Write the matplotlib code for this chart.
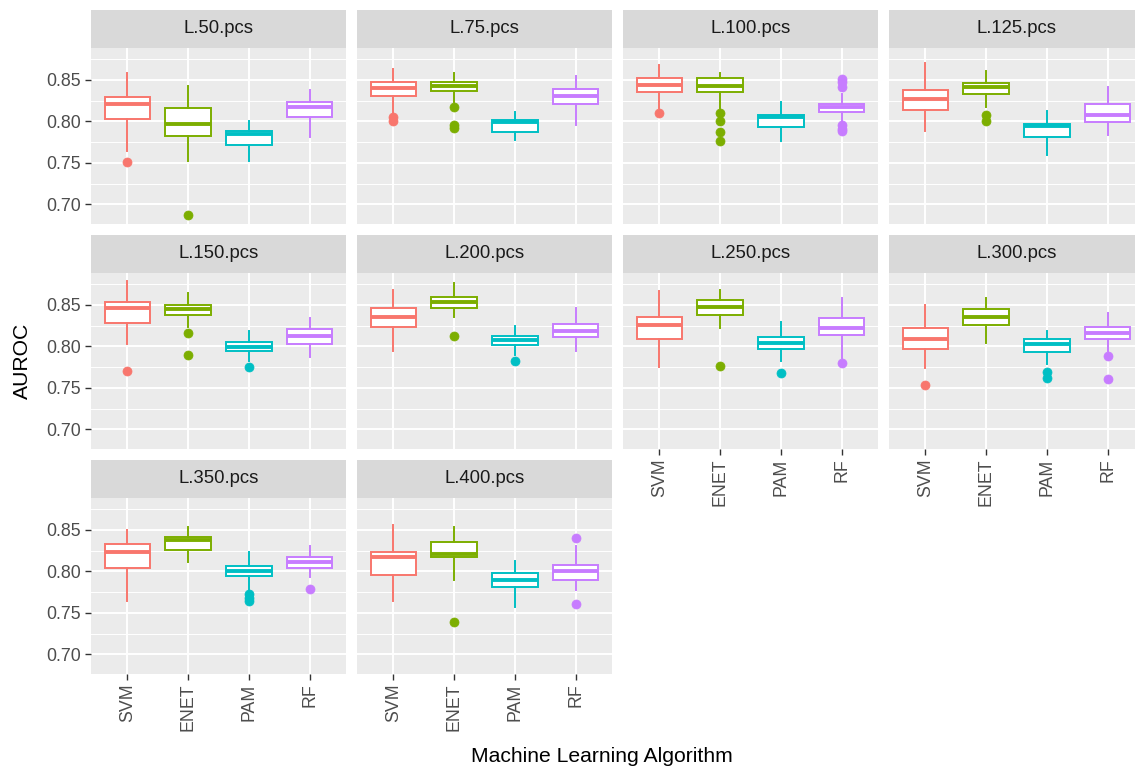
import matplotlib
matplotlib.use("Agg")
import matplotlib.pyplot as plt

plt.rcParams['font.family'] = ['Liberation Sans', 'DejaVu Sans']

panels = ["L.50.pcs", "L.75.pcs", "L.100.pcs", "L.125.pcs", "L.150.pcs",
          "L.200.pcs", "L.250.pcs", "L.300.pcs", "L.350.pcs", "L.400.pcs"]
algorithms = ["SVM", "ENET", "PAM", "RF"]
colors = ["#F8766D", "#7CAE00", "#00BFC4", "#C77CFF"]

# per panel: [SVM, ENET, PAM, RF]
whislo = [[.765, .753, .753, .781],
          [.808, .823, .778, .796],
          [.816, .816, .776, .796],
          [.789, .818, .760, .784],
          [.803, .824, .783, .787],
          [.794, .836, .790, .794],
          [.775, .822, .782, .786],
          [.774, .804, .779, .794],
          [.764, .811, .778, .793],
          [.764, .790, .757, .778]]
q1 = [[.803, .783, .772, .805],
      [.831, .837, .787, .821],
      [.836, .835, .793, .811],
      [.814, .833, .781, .799],
      [.828, .838, .794, .803],
      [.824, .846, .802, .811],
      [.809, .838, .797, .814],
      [.797, .826, .793, .809],
      [.804, .826, .795, .804],
      [.796, .817, .781, .790]]
med = [[.821, .797, .785, .818],
       [.840, .843, .799, .831],
       [.844, .843, .806, .818],
       [.827, .842, .794, .808],
       [.846, .845, .799, .813],
       [.835, .853, .808, .819],
       [.826, .848, .804, .822],
       [.809, .835, .803, .816],
       [.823, .838, .800, .811],
       [.818, .821, .790, .800]]
q3 = [[.830, .816, .789, .824],
      [.848, .848, .802, .839],
      [.852, .852, .808, .821],
      [.838, .846, .797, .821],
      [.854, .850, .805, .821],
      [.846, .860, .813, .827],
      [.836, .856, .812, .834],
      [.822, .845, .809, .823],
      [.833, .842, .807, .818],
      [.824, .835, .798, .808]]
whishi = [[.858, .843, .801, .838],
          [.863, .859, .812, .855],
          [.868, .858, .823, .833],
          [.870, .861, .813, .841],
          [.879, .865, .819, .834],
          [.868, .876, .825, .846],
          [.867, .868, .830, .858],
          [.850, .859, .819, .840],
          [.850, .853, .824, .831],
          [.856, .853, .813, .831]]
fliers = [[[.751], [.687], [], []],
          [[.805, .801], [.818, .796, .792], [], []],
          [[.810], [.810, .801, .787, .776], [], [.851, .847, .842, .796, .791, .788]],
          [[], [.808, .801], [], []],
          [[.770], [.816, .790], [.775], []],
          [[], [.813], [.783], []],
          [[], [.777], [.768], [.780]],
          [[.754], [], [.769, .762], [.788, .761]],
          [[], [], [.773, .768, .765], [.779]],
          [[], [.739], [], [.840, .761]]]

yticks = [0.70, 0.75, 0.80, 0.85]
yminor = [0.725, 0.775, 0.825, 0.875]

W, H = 1135, 769
fig = plt.figure(figsize=(W / 100, H / 100), dpi=100)

col_left = [91, 357, 623, 889]
row_top = [10, 235, 460]
pw, strip_h, ph = 255, 37.7, 176.3

def fig_rect(x, y, w, h):
    return [x / W, 1 - (y + h) / H, w / W, h / H]

tick_col = "#333333"
lab_col = "#4D4D4D"
tick_fs = 12.8
strip_fs = 13.3
title_fs = 15.2

for i, name in enumerate(panels):
    r, c = divmod(i, 4)
    x0 = col_left[c]
    y0 = row_top[r]
    sax = fig.add_axes(fig_rect(x0, y0, pw, strip_h))
    sax.set_facecolor("#D9D9D9")
    sax.set_xticks([]); sax.set_yticks([])
    for s in sax.spines.values():
        s.set_visible(False)
    sax.text(0.5, 0.5, name, ha="center", va="center", fontsize=strip_fs,
             color="#1A1A1A", transform=sax.transAxes)

    ax = fig.add_axes(fig_rect(x0, y0 + strip_h, pw, ph))
    ax.set_facecolor("#EBEBEB")
    for s in ax.spines.values():
        s.set_visible(False)
    ax.set_axisbelow(True)

    for j, alg in enumerate(algorithms):
        st = dict(whislo=whislo[i][j], q1=q1[i][j], med=med[i][j],
                  q3=q3[i][j], whishi=whishi[i][j], fliers=fliers[i][j])
        col = colors[j]
        ax.bxp([st], positions=[j + 1], widths=0.75, patch_artist=True,
               showcaps=False, manage_ticks=False,
               boxprops=dict(facecolor="white", edgecolor=col, linewidth=1.4),
               medianprops=dict(color=col, linewidth=2.8, solid_capstyle="butt"),
               whiskerprops=dict(color=col, linewidth=1.4),
               flierprops=dict(marker="o", markerfacecolor=col, markeredgecolor=col,
                               markersize=6.5, markeredgewidth=0.5, linestyle="none"))

    ax.set_xlim(0.4, 4.6)
    ax.set_ylim(0.6765, 0.8889)
    ax.set_yticks(yticks)
    ax.set_yticks(yminor, minor=True)
    ax.set_xticks(range(1, 5))
    ax.grid(which="major", color="white", linewidth=1.4)
    ax.grid(which="minor", axis="y", color="white", linewidth=0.7)
    ax.tick_params(which="minor", length=0)

    if c == 0:
        ax.set_yticklabels([f"{v:.2f}" for v in yticks])
        ax.tick_params(axis="y", length=4.5, width=1.0, color=tick_col,
                       labelsize=tick_fs, labelcolor=lab_col, pad=2.5)
    else:
        ax.tick_params(axis="y", length=0, labelleft=False)

    bottom_of_col = (r == 2) or (r == 1 and c >= 2)
    if bottom_of_col:
        ax.set_xticklabels(algorithms, rotation=90, va="top", ha="center")
        ax.tick_params(axis="x", length=4.5, width=1.0, color=tick_col,
                       labelsize=tick_fs, labelcolor=lab_col, pad=2.5)
    else:
        ax.tick_params(axis="x", length=0, labelbottom=False)

fig.text(22 / W, 1 - 361 / H, "AUROC", rotation=90, ha="center", va="center",
         fontsize=title_fs, color="black")
fig.text(602 / W, 1 - 757 / H, "Machine Learning Algorithm", ha="center",
         va="center", fontsize=title_fs, color="black")

fig.savefig("out.png", dpi=100, facecolor="white")
